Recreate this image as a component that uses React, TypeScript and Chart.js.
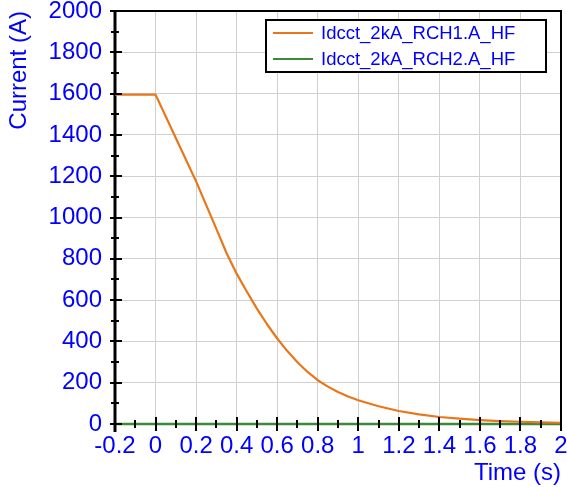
import { useEffect, useRef } from "react";
import { Chart, registerables } from "chart.js";

Chart.register(...registerables);

const timeValues = [-0.2, 0, 0.1, 0.2, 0.25, 0.3, 0.35, 0.4, 0.45, 0.5, 0.55, 0.6, 0.65, 0.7, 0.75, 0.8, 0.85, 0.9, 0.95, 1.0, 1.1, 1.2, 1.3, 1.4, 1.5, 1.6, 1.7, 1.8, 1.9, 2.0];
const rch1Values = [1595, 1595, 1385, 1175, 1060, 945, 828, 728, 642, 559, 483, 414, 353, 299, 252, 212, 181, 155, 133, 115, 86, 63, 47, 34, 26, 19, 14, 11, 8, 6];
const rch2Values = [0, 0, 0, 0, 0, 0, 0, 0, 0, 0, 0, 0, 0, 0, 0, 0, 0, 0, 0, 0, 0, 0, 0, 0, 0, 0, 0, 0, 0, 0];
const seriesLabels = ["Idcct_2kA_RCH1.A_HF", "Idcct_2kA_RCH2.A_HF"];
const seriesColors = ["#e8771a", "#3a8a3a"];
const xTicks = [-0.2, 0, 0.2, 0.4, 0.6, 0.8, 1, 1.2, 1.4, 1.6, 1.8, 2];
const yTicks = [0, 200, 400, 600, 800, 1000, 1200, 1400, 1600, 1800, 2000];
const xTitle = "Time (s)";
const yTitle = "Current (A)";

const FONT = "'Liberation Sans', Arial, sans-serif";
const BLUE = "#0000ff";

const mids = (arr: number[]) => arr.slice(0, -1).map((v, i) => (v + arr[i + 1]) / 2);

const framePlugin = {
  id: "frameTicks",
  beforeDatasetsDraw(chart: any) {
    const { ctx, chartArea: a } = chart;
    ctx.save();
    ctx.strokeStyle = "#000";
    ctx.lineWidth = 2;
    ctx.strokeRect(a.left, a.top, a.right - a.left, a.bottom - a.top);
    ctx.lineWidth = 3;
    ctx.beginPath();
    ctx.moveTo(a.left, a.top - 1);
    ctx.lineTo(a.left, a.bottom + 8);
    ctx.stroke();
    ctx.restore();
  },
  afterDatasetsDraw(chart: any) {
    const { ctx, chartArea: a, scales } = chart;
    const xs = scales.x;
    const ys = scales.y;
    ctx.save();
    ctx.strokeStyle = "#000";
    ctx.lineWidth = 2;
    ctx.beginPath();
    xTicks.forEach((v) => {
      const px = Math.round(xs.getPixelForValue(v));
      ctx.moveTo(px, a.bottom - 7);
      ctx.lineTo(px, a.bottom + 7);
    });
    mids(xTicks).forEach((v) => {
      const px = Math.round(xs.getPixelForValue(v));
      ctx.moveTo(px, a.bottom - 4);
      ctx.lineTo(px, a.bottom + 4);
    });
    yTicks.forEach((v) => {
      const py = Math.round(ys.getPixelForValue(v));
      ctx.moveTo(a.left - 5, py);
      ctx.lineTo(a.left + 7, py);
    });
    mids(yTicks).forEach((v) => {
      const py = Math.round(ys.getPixelForValue(v));
      ctx.moveTo(a.left - 4, py);
      ctx.lineTo(a.left + 4, py);
    });
    ctx.stroke();
    ctx.restore();
  },
  afterDraw(chart: any) {
    const { ctx } = chart;
    ctx.save();
    const bx = 266, by = 20, bw = 280, bh = 52;
    ctx.fillStyle = "#fff";
    ctx.fillRect(bx, by, bw, bh);
    ctx.strokeStyle = "#000";
    ctx.lineWidth = 2;
    ctx.strokeRect(bx, by, bw, bh);
    ctx.font = `18.5px ${FONT}`;
    ctx.textBaseline = "middle";
    ctx.textAlign = "left";
    seriesLabels.forEach((label, i) => {
      const y = 33 + i * 26;
      ctx.strokeStyle = seriesColors[i];
      ctx.lineWidth = 2;
      ctx.beginPath();
      ctx.moveTo(273, y);
      ctx.lineTo(313, y);
      ctx.stroke();
      ctx.fillStyle = BLUE;
      ctx.fillText(label, 321, y + 1);
    });
    ctx.restore();
  },
};

const fmt = (v: number) => {
  const r = Math.round(v * 10) / 10;
  return String(r);
};

export default function App() {
  const ref = useRef<HTMLCanvasElement | null>(null);

  useEffect(() => {
    document.body.style.margin = "0";
    const canvas = ref.current;
    if (!canvas) return;
    const chart = new Chart(canvas, {
      type: "line",
      data: {
        datasets: [
          {
            label: seriesLabels[0],
            data: timeValues.map((t, i) => ({ x: t, y: rch1Values[i] })),
            borderColor: seriesColors[0],
            borderWidth: 2.2,
            pointRadius: 0,
            tension: 0,
            borderJoinStyle: "round",
            clip: false as any,
          },
          {
            label: seriesLabels[1],
            data: timeValues.map((t, i) => ({ x: t, y: rch2Values[i] })),
            borderColor: seriesColors[1],
            borderWidth: 2.5,
            pointRadius: 0,
            tension: 0,
            clip: false as any,
          },
        ],
      },
      options: {
        animation: false,
        responsive: false,
        layout: { padding: { left: 0, right: 6, top: 11, bottom: 0 } },
        plugins: {
          legend: { display: false },
          tooltip: { enabled: false },
        },
        scales: {
          x: {
            type: "linear",
            min: -0.2,
            max: 2,
            afterBuildTicks: (scale: any) => {
              scale.ticks = xTicks.map((v) => ({ value: v }));
            },
            afterFit: (scale: any) => {
              scale.height = 63;
              scale.paddingLeft = 0;
              scale.paddingRight = 0;
            },
            ticks: {
              color: BLUE,
              font: { family: FONT, size: 24 },
              padding: 8,
              maxRotation: 0,
              autoSkip: false,
              callback: (v: any) => fmt(Number(v)),
            },
            grid: { color: "#d0d0d0", lineWidth: 1, drawTicks: false },
            border: { display: false },
            title: {
              display: true,
              text: xTitle,
              align: "end",
              color: BLUE,
              font: { family: FONT, size: 24 },
              padding: { top: 0, bottom: -1 },
            },
          },
          y: {
            type: "linear",
            min: 0,
            max: 2000,
            afterBuildTicks: (scale: any) => {
              scale.ticks = yTicks.map((v) => ({ value: v }));
            },
            afterFit: (scale: any) => {
              scale.width = 115;
              scale.paddingTop = 0;
              scale.paddingBottom = 0;
            },
            ticks: {
              color: BLUE,
              font: { family: FONT, size: 24 },
              padding: 13,
              autoSkip: false,
              callback: (v: any) => String(v),
            },
            grid: { color: "#d0d0d0", lineWidth: 1, drawTicks: false },
            border: { display: false },
            title: {
              display: true,
              text: yTitle,
              align: "end",
              color: BLUE,
              font: { family: FONT, size: 24 },
              padding: { top: 5, bottom: 0 },
            },
          },
        },
      },
      plugins: [framePlugin],
    });
    return () => chart.destroy();
  }, []);

  return (
    <div style={{ width: 567, height: 487 }}>
      <canvas ref={ref} width={567} height={487} style={{ display: "block" }} />
    </div>
  );
}
